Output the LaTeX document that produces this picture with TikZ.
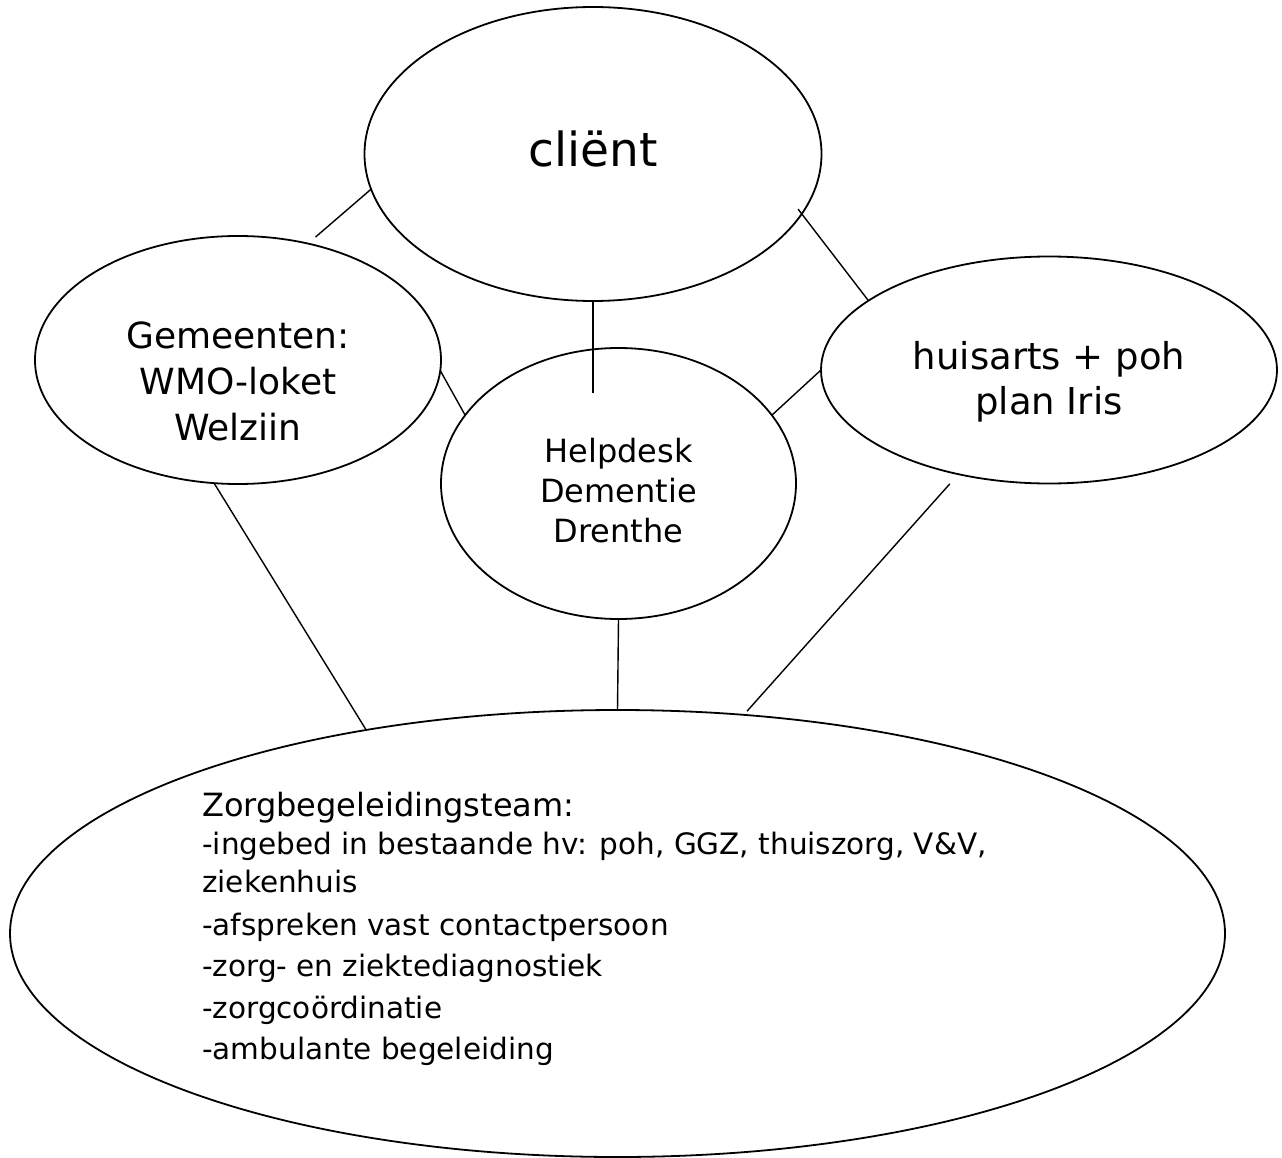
\documentclass[tikz,border=0pt]{standalone}
\usepackage{fontspec}
\setmainfont{DejaVu Sans}
\usetikzlibrary{shapes.geometric}

\tikzset{
    bubble/.style={ellipse,draw,line width=1.8pt,inner sep=0pt,outer sep=0pt},
    link/.style={line width=1.4pt},
    txt/.style={inner sep=0pt,align=center},
}

\begin{document}
\begin{tikzpicture}[x=1pt,y=-1pt]
    \useasboundingbox (0,0) rectangle (1282,1158);
    \node[bubble,minimum width=457,minimum height=294] (client) at (593,154) {};
    \node[bubble,minimum width=406,minimum height=248] (gem) at (238,360) {};
    \node[bubble,minimum width=355,minimum height=271] (help) at (618.5,483.5) {};
    \node[bubble,minimum width=456,minimum height=227] (huis) at (1049,370) {};
    \node[bubble,minimum width=1215,minimum height=447] (zorg) at (617.5,933.5) {};
    \node[txt,font=\fontsize{47}{56}\selectfont] (clienttext) at ([yshift=5pt]client.center) {cliënt};
    \node[txt,font=\fontsize{36}{46}\selectfont] (gemtext) at ([yshift=-21.6pt]gem.center) {Gemeenten:\\WMO-loket\\Welziin};
    \node[txt,font=\fontsize{32}{40}\selectfont] (helptext) at ([yshift=-7.4pt]help.center) {Helpdesk\\Dementie\\Drenthe};
    \node[txt,font=\fontsize{37}{45}\selectfont] (huistext) at ([yshift=-11.8pt]huis.center) {huisarts + poh\\plan Iris};
    \node[txt,align=left,anchor=north west,font=\fontsize{29.5}{38}\selectfont] (zorgtext) at (202,791.7) {{\fontsize{32}{38}\selectfont Zorgbegeleidingsteam:}\\[0pt]
        -ingebed in bestaande hv: poh, GGZ, thuiszorg, V\&V,\\
        ziekenhuis\\[5pt]
        -afspreken vast contactpersoon\\[3.5pt]
        -zorg- en ziektediagnostiek\\[3.5pt]
        -zorgcoördinatie\\[3.5pt]
        -ambulante begeleiding};
    \draw[link,shorten >=10pt] (client.189) -- (gem.59);
    \draw[link,shorten <=-6pt] (client.344) -- (huis.159);
    \draw[link,shorten >=-45pt] (client.south) -- (client.south |- help.north);
    \draw[link] (gem.357) -- (help.156);
    \draw[link] (huis.180) -- (help.24);
    \draw[link] (gem.259) -- (zorg.141);
    \draw[link] (help.south) -- (zorg.north);
    \draw[link,shorten <=13pt,shorten >=5pt] (huis.229) -- (zorg.60);
\end{tikzpicture}
\end{document}
